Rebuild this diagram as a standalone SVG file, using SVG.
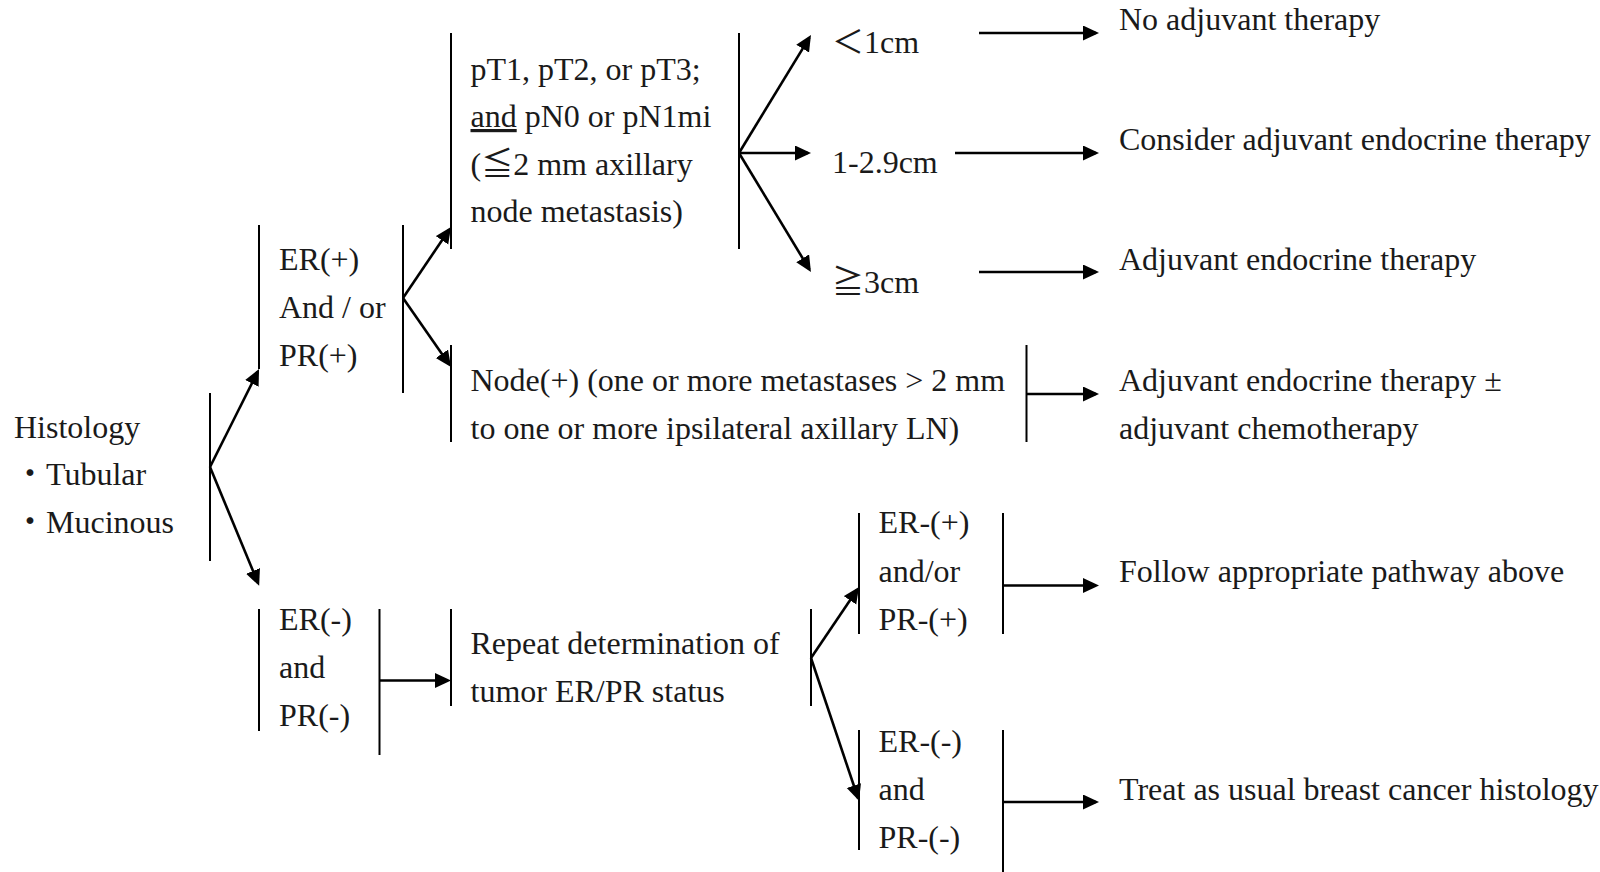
<svg xmlns="http://www.w3.org/2000/svg" width="1600" height="872" viewBox="0 0 1600 872">
  <style>
    text { font-family: "Liberation Serif", "Noto Sans CJK JP", serif; font-size: 32px; fill: #1a1a1a; }
    .bar { stroke: #000; stroke-width: 2; fill: none; }
    .arrow { stroke: #000; stroke-width: 2.6; fill: none; marker-end: url(#head); }
  </style>
  <defs>
    <marker id="head" markerUnits="userSpaceOnUse" markerWidth="17" markerHeight="16" refX="13" refY="7.5" orient="auto">
      <path d="M0,0 L16,7.5 L0,15 Z" fill="#000"/>
    </marker>
  </defs>
  <rect width="1600" height="872" fill="#fff"/>

  <!-- Histology -->
  <g id="histology">
    <text x="14" y="438">Histology</text>
    <text x="14" y="485">・Tubular</text>
    <text x="14" y="533">・Mucinous</text>
    <line class="bar" x1="210" y1="393" x2="210" y2="561"/>
  </g>

  <!-- ER(+) and/or PR(+) -->
  <g id="er-pos">
    <line class="bar" x1="259" y1="225" x2="259" y2="369"/>
    <text x="279" y="270">ER(+)</text>
    <text x="279" y="318">And / or</text>
    <text x="279" y="366">PR(+)</text>
    <line class="bar" x1="403" y1="225" x2="403" y2="393"/>
  </g>

  <!-- pT1-3, pN0/pN1mi -->
  <g id="pt-pn0">
    <line class="bar" x1="451" y1="33" x2="451" y2="249"/>
    <text x="470.5" y="79.5">pT1, pT2, or pT3;</text>
    <text x="470.5" y="127"><tspan text-decoration="underline">and</tspan> pN0 or pN1mi</text>
    <text x="470.5" y="174.5">(≦2 mm axillary</text>
    <text x="470.5" y="222">node metastasis)</text>
    <line class="bar" x1="739" y1="33" x2="739" y2="249"/>
  </g>

  <!-- Tumour size classes -->
  <g id="size-lt1">
    <text x="832" y="52.5">＜1cm</text>
  </g>
  <g id="size-1-29">
    <text x="832" y="173">1-2.9cm</text>
  </g>
  <g id="size-ge3">
    <text x="832" y="292.5">≧3cm</text>
  </g>

  <!-- Node positive -->
  <g id="node-pos">
    <line class="bar" x1="451" y1="345" x2="451" y2="442"/>
    <text x="470.5" y="390.5">Node(+) (one or more metastases &gt; 2 mm</text>
    <text x="470.5" y="438.5">to one or more ipsilateral axillary LN)</text>
    <line class="bar" x1="1026.5" y1="345" x2="1026.5" y2="442"/>
  </g>

  <!-- Treatment outcomes -->
  <g id="tx-none">
    <text x="1119" y="30">No adjuvant therapy</text>
  </g>
  <g id="tx-consider">
    <text x="1119" y="149.5">Consider adjuvant endocrine therapy</text>
  </g>
  <g id="tx-endocrine">
    <text x="1119" y="270">Adjuvant endocrine therapy</text>
  </g>
  <g id="tx-endocrine-chemo">
    <text x="1119" y="390.5">Adjuvant endocrine therapy ±</text>
    <text x="1119" y="438.5">adjuvant chemotherapy</text>
  </g>
  <g id="tx-follow">
    <text x="1119" y="582">Follow appropriate pathway above</text>
  </g>
  <g id="tx-usual">
    <text x="1119" y="799.5">Treat as usual breast cancer histology</text>
  </g>

  <!-- ER(-) and PR(-) -->
  <g id="er-neg">
    <line class="bar" x1="259" y1="609" x2="259" y2="731"/>
    <text x="279" y="630">ER(-)</text>
    <text x="279" y="678">and</text>
    <text x="279" y="726">PR(-)</text>
    <line class="bar" x1="379.5" y1="609" x2="379.5" y2="755"/>
  </g>

  <!-- Repeat ER/PR testing -->
  <g id="repeat">
    <line class="bar" x1="451" y1="609" x2="451" y2="706"/>
    <text x="470.5" y="653.5">Repeat determination of</text>
    <text x="470.5" y="701.5">tumor ER/PR status</text>
    <line class="bar" x1="811" y1="609" x2="811" y2="706"/>
  </g>

  <!-- Retest ER/PR positive -->
  <g id="retest-pos">
    <line class="bar" x1="859" y1="513" x2="859" y2="634"/>
    <text x="878.5" y="533">ER-(+)</text>
    <text x="878.5" y="582">and/or</text>
    <text x="878.5" y="630">PR-(+)</text>
    <line class="bar" x1="1003" y1="513" x2="1003" y2="634"/>
  </g>

  <!-- Retest ER/PR negative -->
  <g id="retest-neg">
    <line class="bar" x1="859" y1="730" x2="859" y2="850"/>
    <text x="878.5" y="751.5">ER-(-)</text>
    <text x="878.5" y="799.5">and</text>
    <text x="878.5" y="847.5">PR-(-)</text>
    <line class="bar" x1="1003" y1="730" x2="1003" y2="872"/>
  </g>

  <!-- Connectors -->
  <g id="connectors">
    <line class="arrow" x1="210" y1="467" x2="257.7" y2="371.7"/>
    <line class="arrow" x1="210" y1="467" x2="258" y2="583"/>
    <line class="arrow" x1="403" y1="298" x2="449.3" y2="229.5"/>
    <line class="arrow" x1="403" y1="298" x2="449.3" y2="364.5"/>
    <line class="arrow" x1="739" y1="153" x2="809.4" y2="37.6"/>
    <line class="arrow" x1="739" y1="153" x2="808" y2="153"/>
    <line class="arrow" x1="739" y1="153" x2="809.4" y2="269.4"/>
    <line class="arrow" x1="979" y1="33" x2="1096" y2="33"/>
    <line class="arrow" x1="955" y1="153" x2="1096" y2="153"/>
    <line class="arrow" x1="979" y1="272" x2="1096" y2="272"/>
    <line class="arrow" x1="1026.5" y1="394" x2="1096" y2="394"/>
    <line class="arrow" x1="379.5" y1="680.5" x2="448" y2="680.5"/>
    <line class="arrow" x1="811" y1="658" x2="857.3" y2="589.5"/>
    <line class="arrow" x1="811" y1="658" x2="858" y2="798"/>
    <line class="arrow" x1="1003" y1="585.5" x2="1096" y2="585.5"/>
    <line class="arrow" x1="1003" y1="802" x2="1096" y2="802"/>
  </g>
</svg>
